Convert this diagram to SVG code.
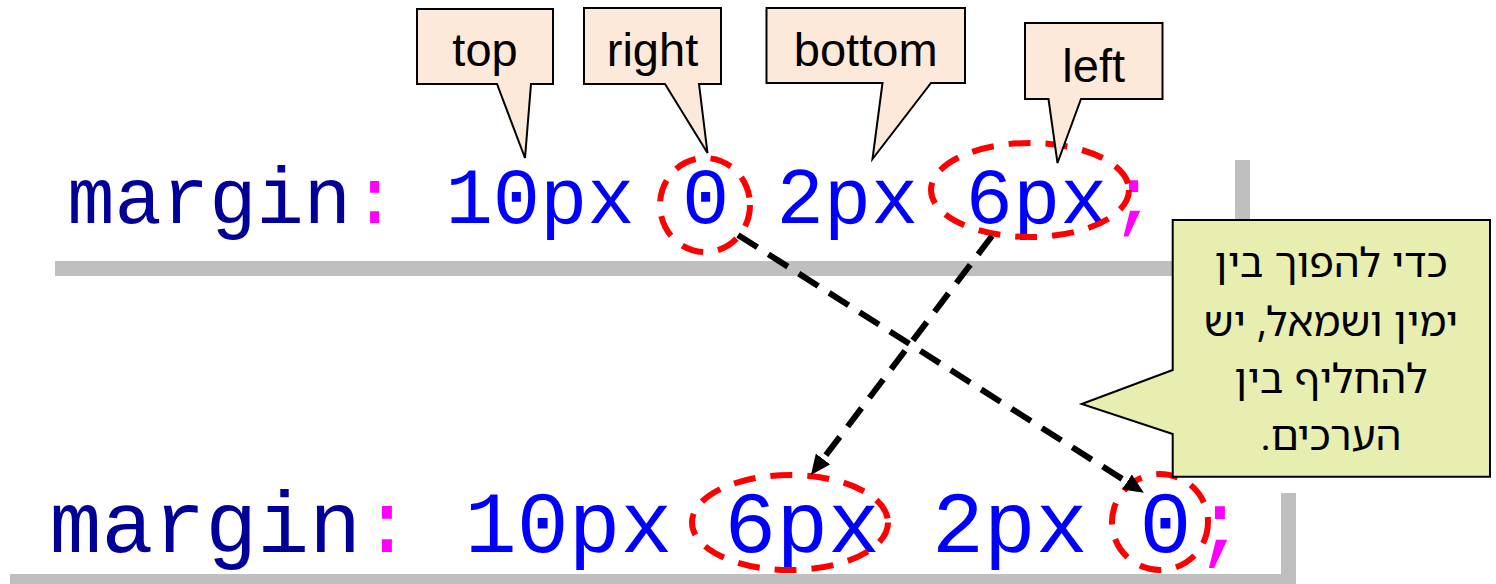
<svg xmlns="http://www.w3.org/2000/svg" width="1496" height="584" viewBox="0 0 1496 584">
<defs>
<style>
.bar{fill:#BFBFBF}
.code{font-family:"Liberation Mono","Courier New",monospace}
.kw{fill:#000099}
.val{fill:#0000FF}
.pun{fill:#FF00FF}
.ring{fill:none;stroke:#FF0000;stroke-width:6;stroke-dasharray:22 15}
.lbl{fill:#FDE9D9;stroke:#000;stroke-width:2;stroke-linejoin:miter}
.lbltxt{font-family:"Liberation Sans",Arial,sans-serif;font-size:47px;fill:#000;text-anchor:middle}
.note{fill:#E8EEB0;stroke:#000;stroke-width:2}
.notetxt{font-family:"Noto Sans Hebrew","Noto Sans","DejaVu Sans",sans-serif;font-size:41px;fill:#000;text-anchor:middle}
.link{fill:none;stroke:#000;stroke-width:6;stroke-dasharray:23 13}
</style>
<marker id="arr" markerUnits="userSpaceOnUse" markerWidth="22" markerHeight="18" refX="0" refY="9" orient="auto">
<path d="M0,0 L20,9 L0,18 Z" fill="#000"/>
</marker>
</defs>

<g id="frame-top">
<rect class="bar" x="55" y="261" width="1195" height="15"/>
<rect class="bar" x="1235" y="160" width="15" height="116"/>
</g>
<g id="frame-bottom">
<rect class="bar" x="10" y="574" width="1286" height="14"/>
<rect class="bar" x="1281" y="493" width="15" height="95"/>
</g>

<g id="code-top">
<text class="code" font-size="78.8" y="223"><tspan class="kw" x="67.3">margin</tspan><tspan class="pun" x="351">:</tspan><tspan class="val" x="445.5">10px</tspan><tspan class="val" x="681.9">0</tspan><tspan class="val" x="776.5">2px</tspan><tspan class="val" x="965.6">6px</tspan><tspan class="pun" x="1110">;</tspan></text>
</g>
<g id="code-bottom">
<text class="code" font-size="86.5" y="552"><tspan class="kw" x="49.6">margin</tspan><tspan class="pun" x="361">:</tspan><tspan class="val" x="464.8">10px</tspan><tspan class="val" x="724.3">6px</tspan><tspan class="val" x="931.9">2px</tspan><tspan class="val" x="1139.5">0</tspan><tspan class="pun" x="1194">;</tspan></text>
</g>

<g id="ring-top-0"><ellipse class="ring" cx="705" cy="205" rx="45" ry="47"/></g>
<g id="ring-top-6px"><ellipse class="ring" cx="1030" cy="190" rx="99" ry="47"/></g>
<g id="ring-bottom-6px"><ellipse class="ring" cx="790" cy="522.5" rx="98" ry="47.5"/></g>
<g id="ring-bottom-0"><ellipse class="ring" cx="1160" cy="522" rx="48" ry="48"/></g>

<g id="connectors">
<path class="link" d="M738,235 L1127,482" marker-end="url(#arr)"/>
<path class="link" d="M992,236 L823,459" marker-end="url(#arr)"/>
</g>

<g id="callout-top">
<path class="lbl" d="M417,9 H553 V84 H531 L525,158 L497,84 H417 Z"/>
<text class="lbltxt" x="485" y="66">top</text>
</g>
<g id="callout-right">
<path class="lbl" d="M584,8 H721 V84 H699 L707.5,153 L665,84 H584 Z"/>
<text class="lbltxt" x="652.5" y="66">right</text>
</g>
<g id="callout-bottom">
<path class="lbl" d="M766.5,8 H965 V83 H931 L872.5,159 L882.5,83 H766.5 Z"/>
<text class="lbltxt" x="865.7" y="66">bottom</text>
</g>
<g id="callout-left">
<path class="lbl" d="M1025,23 H1162.5 V99 H1081 L1057.5,163 L1048.5,99 H1025 Z"/>
<text class="lbltxt" x="1093.7" y="82">left</text>
</g>

<g id="note">
<path class="note" d="M1172.7,220 H1490 V476.7 H1172.7 V434 L1081.7,404 L1172.7,370 Z"/>
<text class="notetxt" direction="rtl" x="1331" y="277">כדי להפוך בין</text>
<text class="notetxt" direction="rtl" x="1331" y="336">ימין ושמאל, יש</text>
<text class="notetxt" direction="rtl" x="1331" y="393">להחליף בין</text>
<text class="notetxt" direction="rtl" x="1331" y="450">הערכים.</text>
</g>
</svg>
